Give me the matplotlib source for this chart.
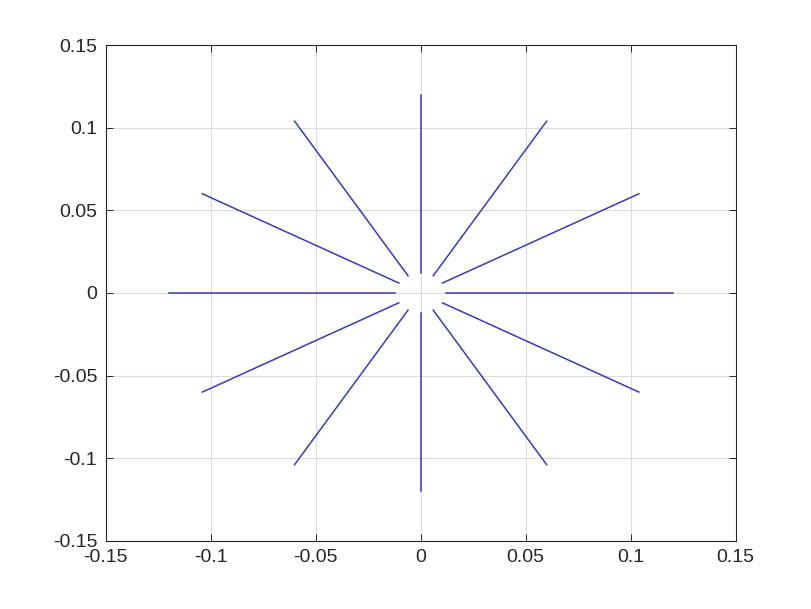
import numpy as np
import matplotlib
matplotlib.use("Agg")
import matplotlib.pyplot as plt

# spoke angles (deg) and inner / outer radius of each spoke
angles_deg = [0, 30, 60, 90, 120, 150, 180, 210, 240, 270, 300, 330]
r_inner = 0.012
r_outer = 0.12

ticks = [-0.15, -0.1, -0.05, 0, 0.05, 0.1, 0.15]
tick_labels = ["-0.15", "-0.1", "-0.05", "0", "0.05", "0.1", "0.15"]

AX = "#262626"
plt.rcParams.update({
    "font.family": ["Liberation Sans", "DejaVu Sans"],
    "font.size": 14,
    "xtick.direction": "in", "ytick.direction": "in",
    "axes.edgecolor": AX, "xtick.color": AX, "ytick.color": AX,
})

fig = plt.figure(figsize=(8.12, 6.09), dpi=100)
ax = fig.add_axes([0.13, 0.112, 0.776, 0.814])

for a in angles_deg:
    t = np.deg2rad(a)
    ax.plot([r_inner * np.cos(t), r_outer * np.cos(t)],
            [r_inner * np.sin(t), r_outer * np.sin(t)],
            color="#3a3ab8", lw=1.1)

ax.set_xlim(-0.15, 0.15)
ax.set_ylim(-0.15, 0.15)
ax.set_xticks(ticks)
ax.set_xticklabels(tick_labels)
ax.set_yticks(ticks)
ax.set_yticklabels(tick_labels)
ax.tick_params(top=True, right=True, length=5, width=0.7, pad=6)
ax.grid(True, color="#dcdcdc", lw=0.8)
ax.set_axisbelow(True)
for s in ax.spines.values():
    s.set_linewidth(0.8)

fig.savefig("out.png", dpi=100)
